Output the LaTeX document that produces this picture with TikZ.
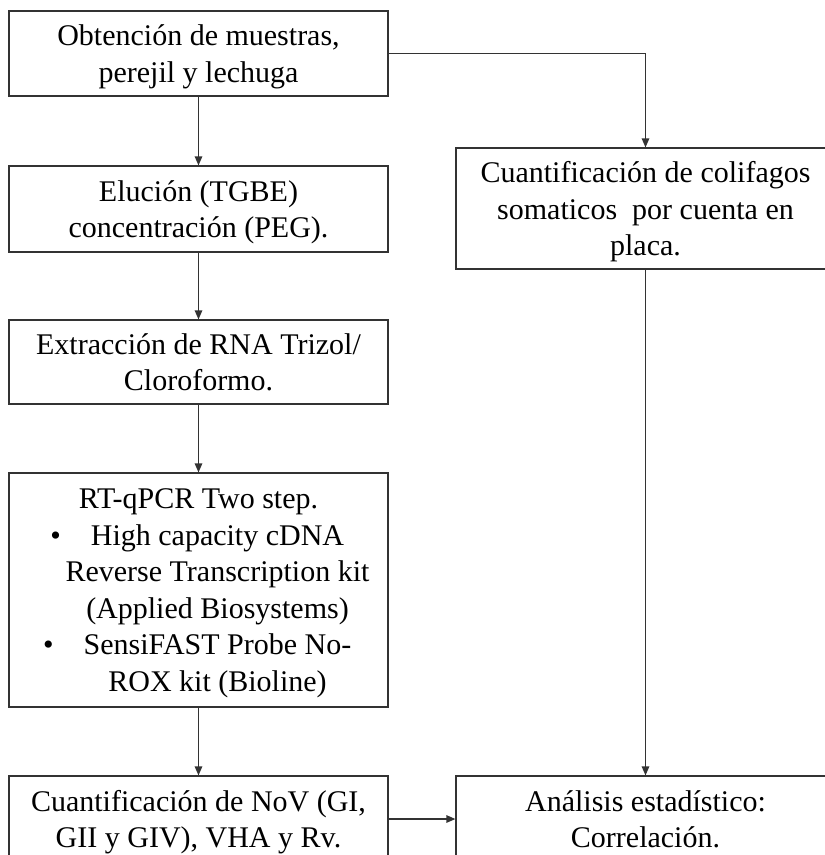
\documentclass[tikz,border=0pt]{standalone}
\usepackage{fontspec}
\setmainfont{Liberation Serif}
\usetikzlibrary{arrows.meta}

\begin{document}
\begin{tikzpicture}[x=1pt, y=-1pt,
  stepBox/.style={draw=black!80, line width=1.2pt, minimum width=379pt, inner sep=2pt,
    align=center, text depth=0pt, font=\fontsize{30}{36.5}\selectfont},
  flowArrow/.style={draw=black!80, line width=1.2pt, -{Triangle[length=9pt, width=7.5pt]}}]
  \useasboundingbox (0, 0) rectangle (825, 855);
  \clip (0, 0) rectangle (825, 855);
  %
  \newcommand{\bulletGap}{\hspace*{38pt}\llap{\textbullet\hspace{30pt}}}
  %
  % left column
  \node[stepBox, minimum height=85pt] at (198.5, 53.5) (obtencion)
    {Obtención de muestras,\\ perejil y lechuga};
  \node[stepBox, minimum height=86pt] at (198.5, 209) (elucion)
    {Elución (TGBE)\\ concentración (PEG).};
  \node[stepBox, minimum height=84pt] at (198.5, 362) (extraccion)
    {Extracción de RNA Trizol/\\ Cloroformo.};
  \node[stepBox, minimum height=234pt] at (198.5, 590) (rtqpcr)
    {RT-qPCR Two step.\\
     \bulletGap High capacity cDNA\\
     \hspace*{38pt}Reverse Transcription kit\\
     \hspace*{38pt}(Applied Biosystems)\\
     \bulletGap SensiFAST Probe No-\\
     \hspace*{38pt}ROX kit (Bioline)};
  \node[stepBox, minimum height=86pt] at (198.5, 819) (cuantNoV)
    {Cuantificación de NoV (GI,\\ GII y GIV), VHA y Rv.};
  %
  % right column
  \node[stepBox, minimum height=121pt] at (645.5, 208.5) (colifagos)
    {Cuantificación de colifagos\\ somaticos\ \ por cuenta en\\ placa.};
  \node[stepBox, minimum height=86pt] at (645.5, 819) (analisis)
    {Análisis estadístico:\\ Correlación.};
  %
  \draw[flowArrow] (obtencion) -- (elucion);
  \draw[flowArrow] (elucion) -- (extraccion);
  \draw[flowArrow] (extraccion) -- (rtqpcr);
  \draw[flowArrow] (rtqpcr) -- (cuantNoV);
  \draw[flowArrow] (obtencion.east) -| (colifagos.north);
  \draw[flowArrow] (colifagos) -- (analisis);
  \draw[flowArrow] (cuantNoV) -- (analisis);

\end{tikzpicture}
\end{document}
